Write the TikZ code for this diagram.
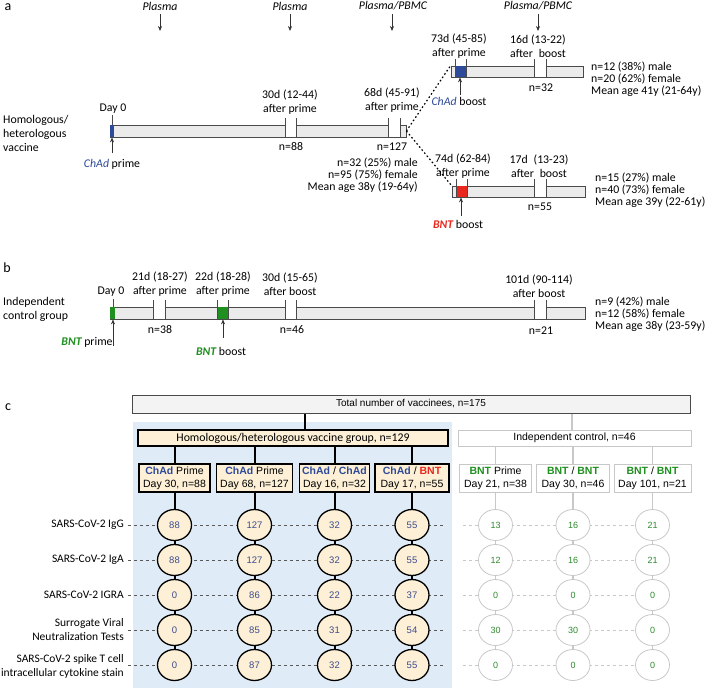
\documentclass[tikz,border=0pt]{standalone}
\usepackage{fontspec}
\setmainfont{Carlito}
\newfontfamily\tah{Liberation Sans}
\usetikzlibrary{arrows.meta,shapes.geometric}
\pgfdeclarelayer{back}
\pgfdeclarelayer{mid}
\pgfsetlayers{back,mid,main}
\definecolor{chad}{HTML}{2E4A9A}
\definecolor{bntred}{HTML}{E8281E}
\definecolor{bntgreen}{HTML}{1F8F1F}
\definecolor{bargray}{HTML}{EBEBEB}
\definecolor{barline}{HTML}{4A4A4A}
\definecolor{bgblue}{HTML}{DFEBF7}
\definecolor{cream}{HTML}{FDF0D6}
\definecolor{lgray}{HTML}{C8C8C8}
\definecolor{bxgray}{HTML}{F3F3F3}
\definecolor{numblue}{HTML}{3B4B8E}
\definecolor{numgreen}{HTML}{2E8B2E}
\newcommand{\ChAdI}{\textcolor{chad}{\itshape ChAd}}
\newcommand{\BNTr}{\textcolor{bntred}{\bfseries\itshape BNT}}
\newcommand{\BNTg}{\textcolor{bntgreen}{\bfseries\itshape BNT}}
\newcommand{\ChAdB}{\textcolor{chad}{\bfseries ChAd}}
\newcommand{\BNTbr}{\textcolor{bntred}{\bfseries BNT}}
\newcommand{\BNTbg}{\textcolor{bntgreen}{\bfseries BNT}}
\begin{document}
\begin{tikzpicture}[x=1pt,y=-1pt,
  txt/.style={inner sep=0pt,align=center,font=\fontsize{11.8}{14.5}\selectfont},
  stat/.style={inner sep=0pt,font=\fontsize{11.8}{12}\selectfont},
  lbl/.style={inner sep=0pt,font=\fontsize{14}{16}\selectfont},
  barbox/.style={draw=barline,fill=bargray,line width=0.8pt,inner sep=0pt,rectangle},
  tk/.style={draw=barline,line width=0.7pt},
  arr/.style={-{Stealth[length=5pt,width=4pt]},line width=0.7pt,draw=black!80},
  dots/.style={line width=1.2pt,dash pattern=on 1.6pt off 2.4pt},
  tbox/.style={draw=barline,fill=bxgray,line width=0.8pt,inner sep=0pt,font=\tah\fontsize{10}{12}\selectfont},
  hbox/.style={draw=black,fill=cream,line width=1.5pt,inner sep=0pt,font=\fontsize{11.8}{13}\selectfont},
  ibox/.style={draw=lgray,fill=white,line width=0.8pt,inner sep=0pt,font=\tah\fontsize{10.5}{12}\selectfont},
  hsub/.style={draw=black,fill=cream,line width=1.5pt,inner sep=0pt,minimum height=28pt,align=center,font=\tah\fontsize{10.5}{13}\selectfont},
  isub/.style={draw=lgray,fill=white,line width=0.8pt,inner sep=0pt,minimum height=28pt,align=center,font=\tah\fontsize{10.5}{13}\selectfont},
  hstem/.style={draw=black,line width=2pt},
  istem/.style={draw=lgray,line width=1.8pt},
  hcir/.style={ellipse,draw=black,fill=cream,line width=1.3pt,minimum width=34pt,minimum height=31pt,inner sep=0pt,text=numblue,font=\tah\fontsize{9.5}{10}\selectfont},
  icir/.style={ellipse,draw=lgray,fill=white,line width=0.8pt,minimum width=34pt,minimum height=31pt,inner sep=0pt,text=numgreen,font=\tah\fontsize{9}{10}\selectfont},
  hdash/.style={draw=black!65,line width=0.6pt,dash pattern=on 3pt off 3pt},
  idash/.style={draw=lgray,line width=0.6pt,dash pattern=on 3pt off 3pt},
  rowlab/.style={inner sep=0pt,align=right,anchor=east,font=\fontsize{11.5}{14}\selectfont}
]
\useasboundingbox (0,0) rectangle (706,693);

% ================= section a =================
\node[lbl] (la) at (8,7) {a};
\node[txt] (pl1) at (160,6) {\itshape Plasma};
\node[txt] (pl2) at (290,6) {\itshape Plasma};
\node[txt] (pl3) at (393,6) {\itshape Plasma/PBMC};
\node[txt] (pl4) at (538,6) {\itshape Plasma/PBMC};
\coordinate (pa1) at (160,14); \coordinate (pb1) at (160,31);
\coordinate (pa2) at (290,14); \coordinate (pb2) at (290,31);
\coordinate (pa3) at (392,14); \coordinate (pb3) at (392,31);
\coordinate (pa4) at (538,14); \coordinate (pb4) at (538,31);
\draw[arr] (pa1) -- (pb1);
\draw[arr] (pa2) -- (pb2);
\draw[arr] (pa3) -- (pb3);
\draw[arr] (pa4) -- (pb4);

% main bar
\node[barbox,minimum width=296pt,minimum height=12pt] (mbar) at (258,131) {};
\fill[chad] (110.4,125.4) rectangle (114,136.6);
\fill[white] (285,125.4) rectangle (296,136.6);
\fill[white] (388,125.4) rectangle (400,136.6);
\draw[tk] (112,115) -- (112,125);
\draw[tk] (285,118) -- (285,137);
\draw[tk] (296,118) -- (296,137);
\draw[tk] (388,118) -- (388,137);
\draw[tk] (400,118) -- (400,137);

\node[txt,anchor=west,align=left,font=\fontsize{11.8}{14}\selectfont] (homlab) at (3,133) {Homologous/\\heterologous\\vaccine};
\node[txt] (d0a) at (113,109) {Day 0};
\node[txt] (t30) at (290,102) {30d (12-44)\\after prime};
\node[txt] (n88) at (291,147) {n=88};
\node[txt] (t68) at (392,100) {68d (45-91)\\after prime};
\node[txt] (n127) at (392,147) {n=127};
\node[stat,anchor=east,align=right] (st1) at (418,175) {n=32 (25\%) male\\n=95 (75\%) female\\Mean age 38y (19-64y)};
\node[txt] (cpr) at (112,164) {\ChAdI{} prime};
\coordinate (cpa) at (112,153);
\draw[arr] (cpa) -- (mbar.south west -| cpa);

% upper bar (ChAd boost)
\node[barbox,minimum width=132pt,minimum height=11pt] (ubar) at (517,71.5) {};
\fill[chad] (455,66.4) rectangle (466,76.6);
\fill[white] (534,66.4) rectangle (546,76.6);
\draw[tk] (455,59) -- (455,77);
\draw[tk] (466,59) -- (466,77);
\draw[tk] (534,59) -- (534,77);
\draw[tk] (546,59) -- (546,77);
\node[txt] (t73) at (459,46) {73d (45-85)\\after prime};
\node[txt] (t16) at (538,46) {16d (13-22)\\after\enspace boost};
\node[txt] (n32) at (541,88) {n=32};
\node[txt] (cbo) at (459,101) {\ChAdI{} boost};
\coordinate (cba) at (460,95);
\draw[arr] (cba) -- (ubar.south -| cba);
\node[stat,anchor=west,align=left] (st2) at (591,79) {n=12 (38\%) male\\n=20 (62\%) female\\Mean age 41y (21-64y)};

% lower bar (BNT boost)
\node[barbox,minimum width=133pt,minimum height=11pt] (lbar) at (518.5,191.5) {};
\fill[bntred] (456,186.4) rectangle (467,196.6);
\fill[white] (534,186.4) rectangle (546,196.6);
\draw[tk] (456,179) -- (456,197);
\draw[tk] (467,179) -- (467,197);
\draw[tk] (534,179) -- (534,197);
\draw[tk] (546,179) -- (546,197);
\node[txt] (t74) at (463,166) {74d (62-84)\\after prime};
\node[txt] (t17) at (539,166) {17d\enspace(13-23)\\after\enspace boost};
\node[txt] (n55) at (540,207) {n=55};
\node[txt] (bbo) at (458,224) {\BNTr{} boost};
\coordinate (bba) at (461,216);
\draw[arr] (bba) -- (lbar.south -| bba);
\node[stat,anchor=west,align=left] (st3) at (595,190) {n=15 (27\%) male\\n=40 (73\%) female\\Mean age 39y (22-61y)};

% dotted branches
\draw[dots] (mbar.east) -- (ubar.north west);
\draw[dots] (mbar.east) -- (lbar.north west);

% ================= section b =================
\node[lbl] (lb) at (7,268) {b};
\node[barbox,minimum width=475pt,minimum height=12pt] (bbar) at (347.5,313) {};
\fill[bntgreen] (110.4,307.4) rectangle (115,318.6);
\fill[bntgreen] (217,307.4) rectangle (228,318.6);
\fill[white] (153,307.4) rectangle (165,318.6);
\fill[white] (285,307.4) rectangle (296,318.6);
\fill[white] (534,307.4) rectangle (546,318.6);
\draw[tk] (113,299) -- (113,307);
\foreach \tx in {153,165,217,228,285,296,534,546} \draw[tk] (\tx,300) -- (\tx,319);
\node[txt,anchor=west,align=left,font=\fontsize{11.8}{14}\selectfont] (indlab) at (3,309) {Independent\\control group};
\node[txt] (d0b) at (111,292) {Day 0};
\node[txt] (t21) at (160,284) {21d (18-27)\\after prime};
\node[txt] (t22) at (223,284) {22d (18-28)\\after prime};
\node[txt] (t30b) at (290,284) {30d (15-65)\\after boost};
\node[txt] (t101) at (539,286) {101d (90-114)\\after boost};
\node[txt] (n38) at (160,330) {n=38};
\node[txt] (n46) at (292,330) {n=46};
\node[txt] (n21) at (541,331) {n=21};
\node[txt] (bpr) at (87,342) {\BNTg{} prime};
\node[txt] (bbb) at (221,351) {\BNTg{} boost};
\coordinate (bpa) at (113,346);
\coordinate (bba2) at (223,338);
\draw[arr] (bpa) -- (bbar.south -| bpa);
\draw[arr] (bba2) -- (bbar.south -| bba2);
\node[stat,anchor=west,align=left] (st4) at (595,314) {n=9 (42\%) male\\n=12 (58\%) female\\Mean age 38y (23-59y)};

% ================= section c =================
\node[lbl] (lc) at (8,407) {c};
\node[tbox,minimum width=558pt,minimum height=18pt] (total) at (411,404) {Total number of vaccinees, n=175};
\node[hbox,minimum width=310pt,minimum height=16pt] (hgrp) at (293,438) {Homologous/heterologous vaccine group, n=129};
\node[ibox,minimum width=233pt,minimum height=16pt] (igrp) at (574.5,438) {Independent control, n=46};

\node[hsub,minimum width=71pt] (s1) at (174.5,478) {\ChAdB{} Prime\\Day 30, n=88};
\node[hsub,minimum width=76pt] (s2) at (254.5,478) {\ChAdB{} Prime\\Day 68, n=127};
\node[hsub,minimum width=70pt] (s3) at (334.5,478) {\ChAdB{} / \ChAdB\\Day 16, n=32};
\node[hsub,minimum width=74pt] (s4) at (412,478) {\ChAdB{} / \BNTbr\\Day 17, n=55};
\node[isub,minimum width=72pt] (s5) at (495.5,478) {\BNTbg{} Prime\\Day 21, n=38};
\node[isub,minimum width=73pt] (s6) at (573,478) {\BNTbg{} / \BNTbg\\Day 30, n=46};
\node[isub,minimum width=77pt] (s7) at (652.5,478) {\BNTbg{} / \BNTbg\\Day 101, n=21};

\foreach \col/\x/\vals in {1/174.5/{88,88,0,0,0},2/254.5/{127,127,86,85,87},3/334.5/{32,32,22,31,32},4/412/{55,55,37,54,55}}{
  \foreach \v [count=\r] in \vals { \node[hcir] (c\col-\r) at (\x,{490+35*\r}) {\v}; }
}
\foreach \col/\x/\vals in {5/495.5/{13,12,0,30,0},6/573/{16,16,0,30,0},7/652.5/{21,21,0,0,0}}{
  \foreach \v [count=\r] in \vals { \node[icir] (c\col-\r) at (\x,{490+35*\r}) {\v}; }
}

\node[rowlab] (r1) at (124,525) {SARS-CoV-2 IgG};
\node[rowlab] (r2) at (124,560) {SARS-CoV-2 IgA};
\node[rowlab] (r3) at (124,595) {SARS-CoV-2 IGRA};
\node[rowlab] (r4) at (124,630) {Surrogate Viral\\Neutralization Tests};
\node[rowlab] (r5) at (124,666) {SARS-CoV-2 spike T cell\\intracellular cytokine stain};

\coordinate (hst) at (305,0);
\coordinate (ist) at (572,0);

\begin{pgfonlayer}{back}
  \fill[bgblue] (133,422) rectangle (452,688);
\end{pgfonlayer}
\begin{pgfonlayer}{mid}
  \draw[hstem] (total.south -| hst) -- (hgrp.north -| hst);
  \draw[istem] (total.south -| ist) -- (igrp.north -| ist);
  \foreach \s in {1,2,3,4} {
    \draw[hstem] (hgrp.south -| s\s.north) -- (s\s.north);
    \draw[hstem] (s\s.south) -- (c\s-5.center);
  }
  \foreach \s in {5,6,7} {
    \draw[istem] (igrp.south -| s\s.north) -- (s\s.north);
    \draw[istem] (s\s.south) -- (c\s-5.center);
  }
  \foreach \r in {1,...,5} {
    \draw[hdash] ([xshift=-46.5pt]c1-\r.center) -- ([xshift=31pt]c4-\r.center);
    \draw[idash] ([xshift=-32.5pt]c5-\r.center) -- (c7-\r.center);
  }
\end{pgfonlayer}
\end{tikzpicture}
\end{document}
